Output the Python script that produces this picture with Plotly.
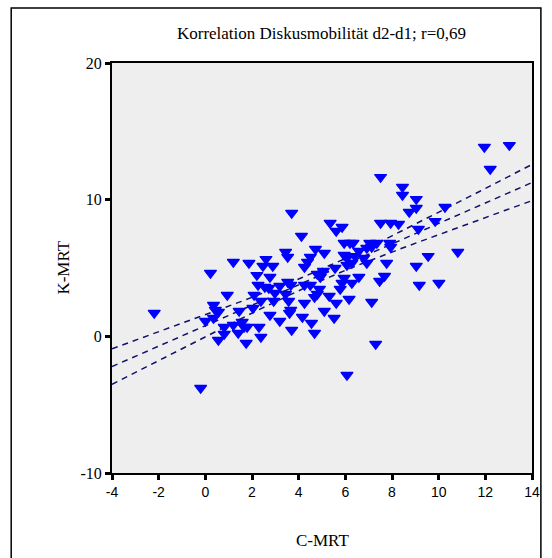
import numpy as np
import plotly.graph_objects as go

# C-MRT / K-MRT pairs (change in disc mobility, d2 - d1)
c_mrt = [
    11.96, 13.03, 12.21, 7.51, 8.45, 8.45, 9.04, 9.04, 8.74, 10.27,
    9.85, 9.13, 10.82, 9.55, 9.04, 10.01, 9.17, 7.51, 7.94, 8.28,
    5.35, 5.61, 5.86, 4.12, 5.95, 6.20, 6.33, 7.05, 7.35, 7.90,
    7.94, 6.92, 7.13, 6.58, 4.72, 5.10, 5.95, 6.07, 6.41, 6.79,
    6.92, 4.50, 4.38, 4.25, 6.07, 6.28, 7.77, 5.56, 5.06, 4.80,
    4.93, 6.58, 7.68, 7.47, 5.95, 5.86, 6.28, 5.78, 4.50, 4.89,
    4.80, 4.68, 5.31, 6.16, 7.13, 4.25, 5.61, 5.10, 5.52, 4.16,
    4.55, 4.68, 7.30, 6.07,
    3.70, 0.22, 1.20, 1.87, 2.60, 2.47, 2.89, 3.44, 3.53, 2.21,
    2.77, 2.26, 2.55, 2.72, 3.19, 3.53, 3.66, 4.25, 0.94, 2.09,
    2.38, 2.98, 3.44, 2.93, 3.57, 0.35, 0.43, 0.56, 1.45, 2.04,
    2.77, 3.19, 3.61, 3.66, 3.70, -2.19, 0.01, 0.35, 0.81, 1.20,
    1.58, 1.66, 1.79, 1.41, 0.81, 0.56, 2.30, 2.38, 1.75, -0.20,
]
k_mrt = [
    13.85, 13.99, 12.24, 11.65, 10.92, 10.34, 10.04, 9.39, 9.09, 9.46,
    8.43, 7.85, 6.17, 5.87, 5.14, 3.90, 3.75, 8.29, 8.29, 8.22,
    8.29, 7.70, 8.00, 7.34, 6.83, 6.83, 6.83, 6.83, 6.83, 6.83,
    6.53, 6.46, 6.53, 6.24, 6.39, 6.09, 5.95, 5.73, 5.87, 5.73,
    5.36, 5.80, 5.44, 5.07, 5.22, 5.36, 5.36, 5.00, 4.78, 4.56,
    4.34, 4.34, 4.41, 4.05, 4.27, 3.90, 3.90, 3.46, 3.75, 3.46,
    3.09, 2.87, 2.95, 2.73, 2.51, 2.44, 2.44, 1.85, 1.34, 1.41,
    0.97, 0.24, -0.56, -2.83,
    9.02, 4.63, 5.44, 5.36, 5.65, 5.14, 5.14, 6.17, 5.80, 4.48,
    4.34, 3.75, 3.61, 3.53, 3.68, 3.97, 3.75, 3.75, 3.02, 3.02,
    2.58, 3.17, 3.09, 2.58, 2.58, 2.29, 1.92, 1.78, 1.85, 2.07,
    1.56, 1.12, 1.70, 1.92, 0.46, 1.70, 1.12, 1.34, 0.68, 0.83,
    1.05, 0.68, 0.68, 0.24, 0.17, -0.27, 0.68, -0.05, -0.49, -3.78,
]

x_ticks = [-4, -2, 0, 2, 4, 6, 8, 10, 12, 14]
x_tick_labels = ["-4", "-2", "0", "2", "4", "6", "8", "10", "12", "14"]
y_ticks = [-10, 0, 10, 20]
y_tick_labels = ["-10", "0", "10", "20"]
title_text = "Korrelation Diskusmobilität d2-d1; r=0,69"

# least-squares fit with 95% confidence band for the mean
x = np.asarray(c_mrt)
y = np.asarray(k_mrt)
n = len(x)
slope, intercept = np.polyfit(x, y, 1)
resid = y - (intercept + slope * x)
s = np.sqrt(np.sum(resid ** 2) / (n - 2))
sxx = np.sum((x - x.mean()) ** 2)
t_crit = 1.98
xf = np.linspace(-4, 14, 121)
yf = intercept + slope * xf
half = t_crit * s * np.sqrt(1.0 / n + (xf - x.mean()) ** 2 / sxx)

fig = go.Figure()
line_style = dict(color="#10106e", width=1.5, dash="6px,5px")
for yy in (yf + half, yf, yf - half):
    fig.add_trace(go.Scatter(x=xf, y=yy, mode="lines", line=line_style,
                             hoverinfo="skip", showlegend=False))
fig.add_trace(go.Scatter(
    x=c_mrt, y=k_mrt, mode="markers", showlegend=False,
    marker=dict(symbol="triangle-down", size=10.5, color="#0000ff",
                line=dict(color="#0000ff", width=1.2)),
))

L, R, T, B = 112, 15, 63, 85
W, H = 552, 558
pw, ph = W - L - R, H - T - B

def px_x(p):
    return (p - L) / pw

def px_y(p):
    return (H - B - p) / ph

serif = "Liberation Serif"
fig.update_layout(
    width=W, height=H,
    margin=dict(l=L, r=R, t=T, b=B, pad=0),
    paper_bgcolor="white", plot_bgcolor="#eeeeee",
    title=dict(text=title_text, xref="paper", x=px_x(324), xanchor="center",
               yref="container", y=1 - 33 / H, yanchor="middle",
               font=dict(family=serif, size=17, color="black")),
    xaxis=dict(range=[-4, 14], tickvals=x_ticks, ticktext=x_tick_labels,
               showgrid=False, zeroline=False,
               showline=True, mirror=True, linecolor="black", linewidth=2,
               ticks="outside", ticklen=5, tickwidth=3, tickcolor="black",
               tickfont=dict(family="Liberation Sans", size=14, color="black")),
    yaxis=dict(range=[-10, 20], tickvals=y_ticks, ticktext=y_tick_labels,
               showgrid=False, zeroline=False,
               showline=True, mirror=True, linecolor="black", linewidth=2,
               ticks="outside", ticklen=5, tickwidth=3, tickcolor="black",
               tickfont=dict(family=serif, size=16, color="black")),
    annotations=[
        dict(text="K-MRT", xref="paper", yref="paper", x=px_x(62), y=px_y(268),
             xanchor="center", yanchor="middle", textangle=-90, showarrow=False,
             font=dict(family=serif, size=17, color="black")),
        dict(text="C-MRT", xref="paper", yref="paper", x=px_x(325), y=px_y(540),
             xanchor="center", yanchor="middle", showarrow=False,
             font=dict(family=serif, size=17, color="black")),
    ],
    shapes=[dict(type="rect", xref="paper", yref="paper",
                 x0=px_x(10), x1=px_x(546), y0=px_y(575), y1=px_y(8),
                 line=dict(color="black", width=1.5), layer="below")],
)

fig.write_html("out.html")
